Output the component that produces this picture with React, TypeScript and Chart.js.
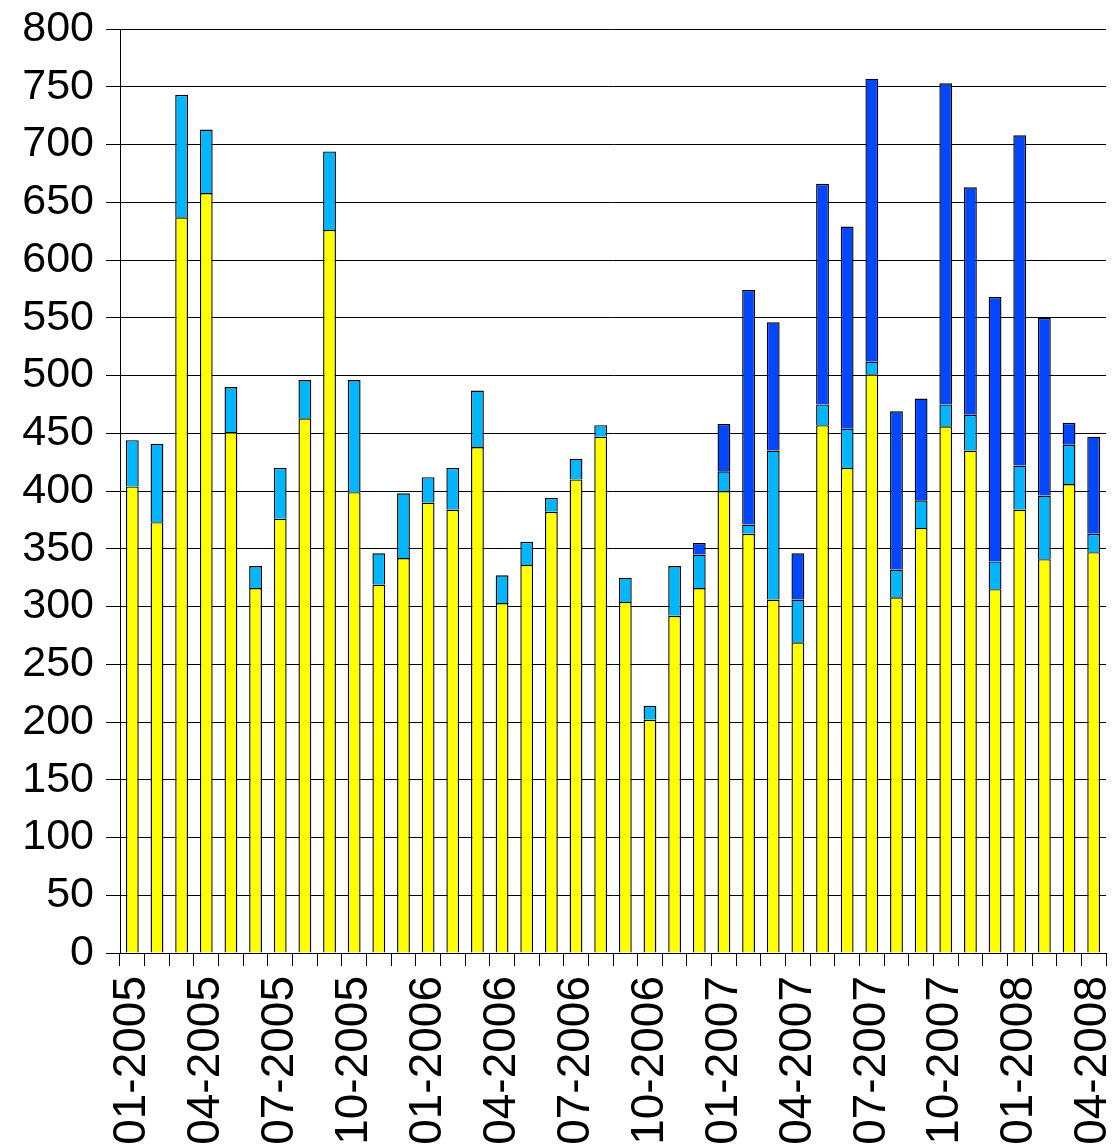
import React, { useEffect, useRef } from 'react';
import { Chart, registerables } from 'chart.js';

Chart.register(...registerables);

const months = [
  '01-2005', '02-2005', '03-2005', '04-2005', '05-2005', '06-2005', '07-2005', '08-2005', '09-2005', '10-2005', '11-2005', '12-2005',
  '01-2006', '02-2006', '03-2006', '04-2006', '05-2006', '06-2006', '07-2006', '08-2006', '09-2006', '10-2006', '11-2006', '12-2006',
  '01-2007', '02-2007', '03-2007', '04-2007', '05-2007', '06-2007', '07-2007', '08-2007', '09-2007', '10-2007', '11-2007', '12-2007',
  '01-2008', '02-2008', '03-2008', '04-2008',
];

const shownTickLabels = [
  '01-2005', '04-2005', '07-2005', '10-2005',
  '01-2006', '04-2006', '07-2006', '10-2006',
  '01-2007', '04-2007', '07-2007', '10-2007',
  '01-2008', '04-2008',
];

const yellowSeries = [
  404, 373, 637, 658, 451, 316, 376, 463, 626, 399,
  319, 342, 390, 384, 438, 303, 336, 382, 410, 447,
  304, 202, 292, 316, 400, 363, 306, 269, 457, 420,
  501, 308, 368, 456, 435, 315, 384, 341, 406, 347,
];

const lightBlueSeries = [
  40, 68, 106, 55, 39, 19, 44, 33, 68, 97,
  27, 56, 22, 36, 49, 24, 20, 12, 18, 10,
  21, 12, 43, 29, 17, 8, 129, 37, 18, 34,
  11, 24, 24, 19, 31, 24, 38, 55, 34, 16,
];

const darkBlueSeries = [
  null, null, null, null, null, null, null, null, null, null,
  null, null, null, null, null, null, null, null, null, null,
  null, null, null, 10, 41, 203, 111, 40, 191, 175,
  245, 137, 88, 278, 197, 229, 286, 154, 19, 84,
];

const FONT = "'Liberation Sans', Arial, Helvetica, sans-serif";

export default function App() {
  const canvasRef = useRef<HTMLCanvasElement | null>(null);

  useEffect(() => {
    const canvas = canvasRef.current;
    if (!canvas) return;
    const barStyle = {
      borderColor: '#000000',
      borderWidth: { top: 1.4, left: 1.4, right: 1.4, bottom: 0 },
      borderSkipped: false as const,
      barPercentage: 0.52,
      categoryPercentage: 1,
    };
    const chart = new Chart(canvas, {
      type: 'bar',
      data: {
        labels: months,
        datasets: [
          { label: 'A', data: yellowSeries, backgroundColor: '#FFFF00', ...barStyle },
          { label: 'B', data: lightBlueSeries, backgroundColor: '#00B7FF', ...barStyle },
          { label: 'C', data: darkBlueSeries as any, backgroundColor: '#0047FF', ...barStyle },
        ],
      },
      options: {
        responsive: false,
        animation: false,
        layout: { padding: { top: 29, right: 11, left: 0, bottom: 0 } },
        plugins: {
          legend: { display: false },
          tooltip: { enabled: false },
        },
        scales: {
          x: {
            stacked: true,
            offset: true,
            grid: {
              offset: true,
              drawOnChartArea: false,
              drawTicks: true,
              tickLength: 13,
              color: '#000000',
              lineWidth: 1,
            },
            border: { display: true, color: '#000000', width: 1 },
            ticks: {
              autoSkip: false,
              maxRotation: 90,
              minRotation: 90,
              padding: 10,
              color: '#000000',
              font: { family: FONT, size: 46 },
              callback: (_v: any, i: number) =>
                shownTickLabels.includes(months[i]) ? months[i] : '',
            },
            afterFit: (s: any) => {
              s.height = 192;
              s.paddingLeft = 0;
              s.paddingRight = 0;
            },
          },
          y: {
            stacked: true,
            min: 0,
            max: 800,
            ticks: {
              stepSize: 50,
              padding: 12,
              color: '#000000',
              font: { family: FONT, size: 43 },
            },
            grid: {
              color: '#000000',
              lineWidth: 1,
              drawTicks: true,
              tickLength: 14,
            },
            border: { display: true, color: '#000000', width: 1 },
            afterFit: (s: any) => {
              s.width = 120;
              s.paddingTop = 0;
              s.paddingBottom = 0;
            },
          },
        },
      },
    });
    return () => chart.destroy();
  }, []);

  return (
    <div style={{ position: 'absolute', left: 0, top: 0, width: 1117, height: 1145, overflow: 'hidden', background: '#fff' }}>
      <canvas ref={canvasRef} width={1117} height={1145} style={{ display: 'block' }} />
    </div>
  );
}
